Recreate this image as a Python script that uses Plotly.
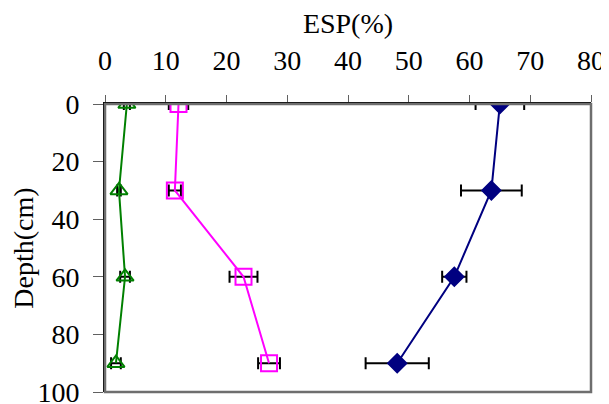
import plotly.graph_objects as go

depth = [0, 30, 60, 90]

esp_blue = [65.0, 63.6, 57.5, 48.1]
err_blue = [4.0, 5.0, 2.0, 5.2]

esp_magenta = [12.1, 11.5, 22.8, 27.0]
err_magenta = [1.6, 1.0, 2.3, 1.8]

esp_green = [3.6, 2.3, 3.3, 1.8]
err_green = [0.5, 0.3, 0.8, 0.8]

x_ticks = [0, 10, 20, 30, 40, 50, 60, 70, 80]
y_ticks = [0, 20, 40, 60, 80, 100]

font_family = "Liberation Serif, Times New Roman, serif"
FS = 28

fig = go.Figure()

def add_series(x, err, color, symbol, size):
    fig.add_trace(go.Scatter(
        x=x, y=depth, mode="lines+markers",
        line=dict(color=color, width=2),
        marker=dict(symbol=symbol, size=size, color=color,
                    line=dict(color=color, width=2)),
        error_x=dict(type="data", array=err, visible=True,
                     color="black", thickness=2, width=6),
        showlegend=False,
    ))

add_series(esp_green, err_green, "#008000", "triangle-up-open", 15)
add_series(esp_magenta, err_magenta, "#ff00ff", "square-open", 16)
add_series(esp_blue, err_blue, "#000080", "diamond", 14)

# gray plot-area frame
fig.add_shape(type="rect", xref="paper", yref="paper", x0=0, y0=0, x1=1, y1=1,
              line=dict(color="#6e6e6e", width=2.5), layer="above")

fig.update_layout(
    width=601, height=396,
    margin=dict(l=97, r=18, t=96, b=12, autoexpand=False),
    paper_bgcolor="white", plot_bgcolor="white",
    font=dict(family=font_family, size=FS, color="black"),
    xaxis=dict(
        side="top", range=[0, 80], tickvals=x_ticks,
        ticks="outside", ticklen=7, tickcolor="#606060", tickwidth=1,
        showline=True, linecolor="black", linewidth=1.5,
        showgrid=False, zeroline=False,
        ticklabelstandoff=14, ticklabeloverflow="allow",
        tickfont=dict(size=FS, family=font_family),
        title=dict(text="ESP(%)", font=dict(size=FS, family=font_family), standoff=6),
    ),
    yaxis=dict(
        range=[100, 0], tickvals=y_ticks,
        ticks="outside", ticklen=10, tickcolor="#606060", tickwidth=1,
        showline=True, linecolor="black", linewidth=2,
        showgrid=False, zeroline=False,
        ticklabelstandoff=8, ticklabeloverflow="allow",
        tickfont=dict(size=FS, family=font_family),
        title=dict(text="Depth(cm)", font=dict(size=FS, family=font_family), standoff=10),
    ),
)

fig.write_html("out.html")
